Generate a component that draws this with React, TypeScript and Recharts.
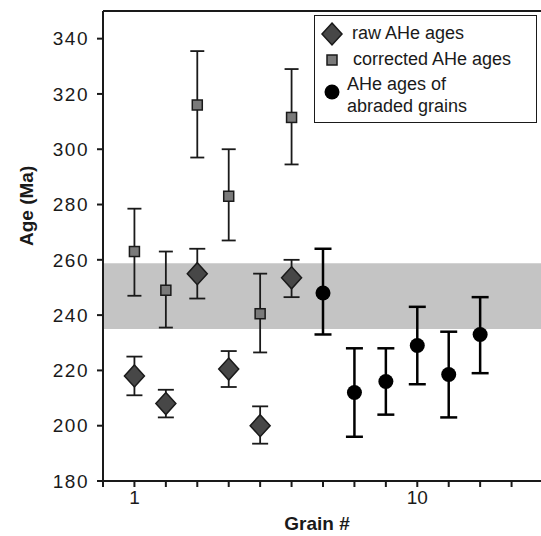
import React from "react";
import { ScatterChart, Scatter, XAxis, YAxis, ErrorBar, ReferenceArea, ReferenceLine } from "recharts";

// grain numbers
const rawGrains = [1, 2, 3, 4, 5, 6];
const abradedGrains = [7, 8, 9, 10, 11, 12];

// raw AHe ages with error range (Ma)
const rawAges = [218, 208, 255, 220.5, 200, 253.5];
const rawLow = [211, 203, 246, 214, 193.5, 246.5];
const rawHigh = [225, 213, 264, 227, 207, 260];

// corrected AHe ages
const corrAges = [263, 249, 316, 283, 240.5, 311.5];
const corrLow = [247, 235.5, 297, 267, 226.5, 294.5];
const corrHigh = [278.5, 263, 335.5, 300, 255, 329];

// abraded grains
const abrAges = [248, 212, 216, 229, 218.5, 233];
const abrLow = [233, 196, 204, 215, 203, 219];
const abrHigh = [264, 228, 228, 243, 234, 246.5];

const bandLow = 235;
const bandHigh = 258.8;

const yTicks = [180, 200, 220, 240, 260, 280, 300, 320, 340];
const xTicks = [0, 1, 2, 3, 4, 5, 6, 7, 8, 9, 10, 11, 12, 13, 14];
const xLabels = [1, 10];

const legendNames = ["raw AHe ages", "corrected AHe ages", "AHe ages of", "abraded grains"];

const font = "'Liberation Sans', Arial, sans-serif";

const build = (grains: number[], ages: number[], low: number[], high: number[]) =>
  grains.map((g, i) => ({ x: g, y: ages[i], err: [ages[i] - low[i], high[i] - ages[i]] }));

const rawData = build(rawGrains, rawAges, rawLow, rawHigh);
const corrData = build(rawGrains, corrAges, corrLow, corrHigh);
const abrData = build(abradedGrains, abrAges, abrLow, abrHigh);

const Diamond = ({ cx, cy }: any) => (
  <polygon
    points={`${cx},${cy - 11} ${cx + 10},${cy} ${cx},${cy + 11} ${cx - 10},${cy}`}
    fill="#474747"
    stroke="#1a1a1a"
    strokeWidth={1.5}
  />
);

const Square = ({ cx, cy }: any) => (
  <rect x={cx - 5} y={cy - 5} width={10} height={10} fill="#7a7a7a" stroke="#1a1a1a" strokeWidth={1.5} />
);

const Dot = ({ cx, cy }: any) => <circle cx={cx} cy={cy} r={7.5} fill="#000" />;

const LegendBox = () => (
  <div
    style={{
      position: "absolute",
      left: 314,
      top: 15,
      width: 223,
      height: 108,
      border: "1.5px solid #1a1a1a",
      background: "#fff",
      fontFamily: font,
      fontSize: 18,
      color: "#1a1a1a",
      boxSizing: "border-box",
    }}
  >
    <svg width={30} height={100} style={{ position: "absolute", left: 3, top: 0 }}>
      <Diamond cx={14} cy={18} />
      <Square cx={14} cy={44} />
      <Dot cx={14} cy={76} />
    </svg>
    <div style={{ position: "absolute", left: 37, top: 7, whiteSpace: "nowrap" }}>{legendNames[0]}</div>
    <div style={{ position: "absolute", left: 38, top: 33, whiteSpace: "nowrap" }}>{legendNames[1]}</div>
    <div style={{ position: "absolute", left: 32, top: 57, whiteSpace: "nowrap", lineHeight: "22px" }}>
      {legendNames[2]}
      <br />
      {legendNames[3]}
    </div>
  </div>
);

export default function App() {
  return (
    <div style={{ position: "absolute", left: 0, top: 0, width: 541, height: 536, overflow: "hidden", background: "#fff" }}>
      <ScatterChart width={545} height={536} margin={{ top: 11, right: 2, left: 0, bottom: 0 }}>
        <XAxis
          type="number"
          dataKey="x"
          domain={[0, 14]}
          ticks={xTicks}
          interval={0}
          tickFormatter={(v: number) => (xLabels.includes(v) ? String(v) : "")}
          height={55}
          stroke="#1a1a1a"
          strokeWidth={2}
          tickSize={6}
          tickMargin={4}
          tick={{ fill: "#1a1a1a", fontSize: 19, fontFamily: font }}
          label={{ value: "Grain #", position: "insideBottom", offset: 6, fill: "#1a1a1a", fontSize: 19, fontWeight: "bold", fontFamily: font, dx: -6 }}
        />
        <YAxis
          type="number"
          dataKey="y"
          domain={[180, 350]}
          ticks={yTicks}
          interval={0}
          width={103}
          stroke="#1a1a1a"
          strokeWidth={2}
          tickSize={6}
          tickMargin={8}
          tick={{ fill: "#1a1a1a", fontSize: 19, fontFamily: font, letterSpacing: 1.5 }}
          label={{ value: "Age (Ma)", angle: -90, position: "insideLeft", offset: 26, fill: "#1a1a1a", fontSize: 19, fontWeight: "bold", fontFamily: font }}
        />
        <ReferenceArea x1={0} x2={14} y1={bandLow} y2={bandHigh} fill="#c4c4c4" fillOpacity={1} stroke="none" />
        <ReferenceLine y={350} stroke="#1a1a1a" strokeWidth={2} />
        <Scatter data={corrData} shape={<Square />} isAnimationActive={false} name="corrected AHe ages">
          <ErrorBar dataKey="err" direction="y" width={7} stroke="#1a1a1a" strokeWidth={1.8} />
        </Scatter>
        <Scatter data={rawData} shape={<Diamond />} isAnimationActive={false} name="raw AHe ages">
          <ErrorBar dataKey="err" direction="y" width={8} stroke="#1a1a1a" strokeWidth={1.8} />
        </Scatter>
        <Scatter data={abrData} shape={<Dot />} isAnimationActive={false} name="AHe ages of abraded grains">
          <ErrorBar dataKey="err" direction="y" width={8.5} stroke="#000" strokeWidth={2.5} />
        </Scatter>
      </ScatterChart>
      <LegendBox />
    </div>
  );
}
